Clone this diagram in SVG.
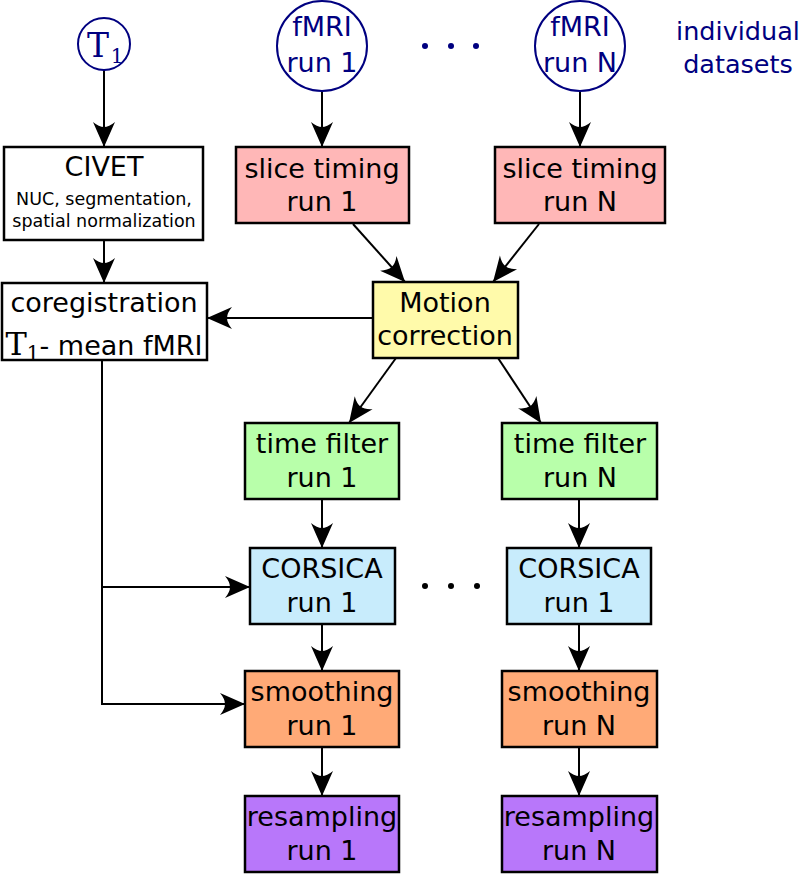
<svg xmlns="http://www.w3.org/2000/svg" width="803" height="874" viewBox="0 0 803 874">
<defs>
<marker id="arr" markerUnits="userSpaceOnUse" viewBox="-27 -13 29 26" markerWidth="29" markerHeight="26" refX="0" refY="0" orient="auto">
<path d="M0,0 L-25,-11 Q-20,-5 -20,0 Q-20,5 -25,11 Z" fill="#000"/>
</marker>
</defs>
<style>
rect.b{stroke:#000;stroke-width:2.5}
.t{font-family:"DejaVu Sans",Verdana,sans-serif;font-size:27px;text-anchor:middle;fill:#000}
.t.s{font-size:17.5px}
.t.l{font-size:25.5px}
.nv{fill:#000080}
circle.c{fill:#fff;stroke:#000080;stroke-width:2}
.m{font-family:"DejaVu Serif","Liberation Serif",serif}
.conn line,.conn polyline{stroke:#000;stroke-width:2;fill:none}
.pink{fill:#ffb7b7}.yel{fill:#fffaaa}.grn{fill:#b8ffaa}.blu{fill:#c8ecfc}.org{fill:#ffaa77}.pur{fill:#b877fa}
</style>
<rect width="803" height="874" fill="#fff"/>
<g class="conn">
<line x1="104" y1="70" x2="104" y2="147" marker-end="url(#arr)"/>
<line x1="104" y1="240" x2="104" y2="283" marker-end="url(#arr)"/>
<line x1="322" y1="92" x2="322" y2="147" marker-end="url(#arr)"/>
<line x1="580" y1="92" x2="580" y2="147" marker-end="url(#arr)"/>
<line x1="353" y1="224" x2="405" y2="282" marker-end="url(#arr)"/>
<line x1="539" y1="224" x2="493" y2="282" marker-end="url(#arr)"/>
<line x1="373" y1="318" x2="207" y2="318" marker-end="url(#arr)"/>
<line x1="396" y1="358" x2="349" y2="423" marker-end="url(#arr)"/>
<line x1="498" y1="358" x2="541" y2="423" marker-end="url(#arr)"/>
<line x1="322" y1="499" x2="322" y2="548" marker-end="url(#arr)"/>
<line x1="579" y1="499" x2="579" y2="548" marker-end="url(#arr)"/>
<line x1="322" y1="624" x2="322" y2="671" marker-end="url(#arr)"/>
<line x1="579" y1="624" x2="579" y2="671" marker-end="url(#arr)"/>
<line x1="322" y1="747" x2="322" y2="796" marker-end="url(#arr)"/>
<line x1="579" y1="747" x2="579" y2="796" marker-end="url(#arr)"/>
<polyline points="102,360 102,704 245,704" marker-end="url(#arr)"/>
<line x1="102" y1="587" x2="250" y2="587" marker-end="url(#arr)"/>
</g>
<g id="t1">
<circle class="c" cx="104" cy="44" r="26"/>
<text class="m nv" x="98" y="57" font-size="33" text-anchor="middle">T</text>
<text class="m nv" x="117" y="63" font-size="20" text-anchor="middle">1</text>
</g>
<g id="fmri1">
<circle class="c" cx="322" cy="46" r="45"/>
<text class="t nv" x="322" y="36">fMRI</text>
<text class="t nv" x="322" y="72">run 1</text>
</g>
<g id="fmriN">
<circle class="c" cx="580" cy="46" r="45"/>
<text class="t nv" x="580" y="36">fMRI</text>
<text class="t nv" x="580" y="72">run N</text>
</g>
<g id="dots-top" fill="#000080">
<circle cx="425" cy="46" r="3"/><circle cx="451" cy="46" r="3"/><circle cx="476" cy="46" r="3"/>
</g>
<g id="label">
<text class="t l nv" x="738" y="40">individual</text>
<text class="t l nv" x="738" y="73">datasets</text>
</g>
<g id="civet">
<rect class="b" x="4" y="147" width="199" height="93" fill="#fff"/>
<text class="t" x="104" y="176">CIVET</text>
<text class="t s" x="104" y="205">NUC, segmentation,</text>
<text class="t s" x="104" y="227">spatial normalization</text>
</g>
<g id="coreg">
<rect class="b" x="2" y="283" width="205" height="77" fill="#fff"/>
<text class="t" x="104" y="312">coregistration</text>
<text class="t" x="104" y="355"><tspan class="m" font-size="32">T</tspan><tspan class="m" font-size="20" dy="5">1</tspan><tspan dy="-5">- mean fMRI</tspan></text>
</g>
<g id="slice1">
<rect class="b pink" x="236" y="147" width="173" height="76"/>
<text class="t" x="322" y="178">slice timing</text>
<text class="t" x="322" y="211">run 1</text>
</g>
<g id="sliceN">
<rect class="b pink" x="495" y="147" width="170" height="76"/>
<text class="t" x="580" y="178">slice timing</text>
<text class="t" x="580" y="211">run N</text>
</g>
<g id="motion">
<rect class="b yel" x="373" y="282" width="145" height="76"/>
<text class="t" x="445" y="312">Motion</text>
<text class="t" x="445" y="345">correction</text>
</g>
<g id="tf1">
<rect class="b grn" x="245" y="423" width="154" height="76"/>
<text class="t" x="322" y="453">time filter</text>
<text class="t" x="322" y="487">run 1</text>
</g>
<g id="tfN">
<rect class="b grn" x="502" y="423" width="155" height="76"/>
<text class="t" x="580" y="453">time filter</text>
<text class="t" x="580" y="487">run N</text>
</g>
<g id="cor1">
<rect class="b blu" x="250" y="548" width="145" height="76"/>
<text class="t" x="322" y="578">CORSICA</text>
<text class="t" x="322" y="612">run 1</text>
</g>
<g id="corN">
<rect class="b blu" x="507" y="548" width="144" height="76"/>
<text class="t" x="579" y="578">CORSICA</text>
<text class="t" x="579" y="612">run 1</text>
</g>
<g id="dots-mid" fill="#000">
<circle cx="425" cy="586" r="3"/><circle cx="451" cy="586" r="3"/><circle cx="477" cy="586" r="3"/>
</g>
<g id="sm1">
<rect class="b org" x="245" y="671" width="154" height="76"/>
<text class="t" x="322" y="701">smoothing</text>
<text class="t" x="322" y="735">run 1</text>
</g>
<g id="smN">
<rect class="b org" x="502" y="671" width="155" height="76"/>
<text class="t" x="579" y="701">smoothing</text>
<text class="t" x="579" y="735">run N</text>
</g>
<g id="rs1">
<rect class="b pur" x="245" y="796" width="154" height="76"/>
<text class="t" x="322" y="826">resampling</text>
<text class="t" x="322" y="860">run 1</text>
</g>
<g id="rsN">
<rect class="b pur" x="502" y="796" width="155" height="76"/>
<text class="t" x="579" y="826">resampling</text>
<text class="t" x="579" y="860">run N</text>
</g>
</svg>
